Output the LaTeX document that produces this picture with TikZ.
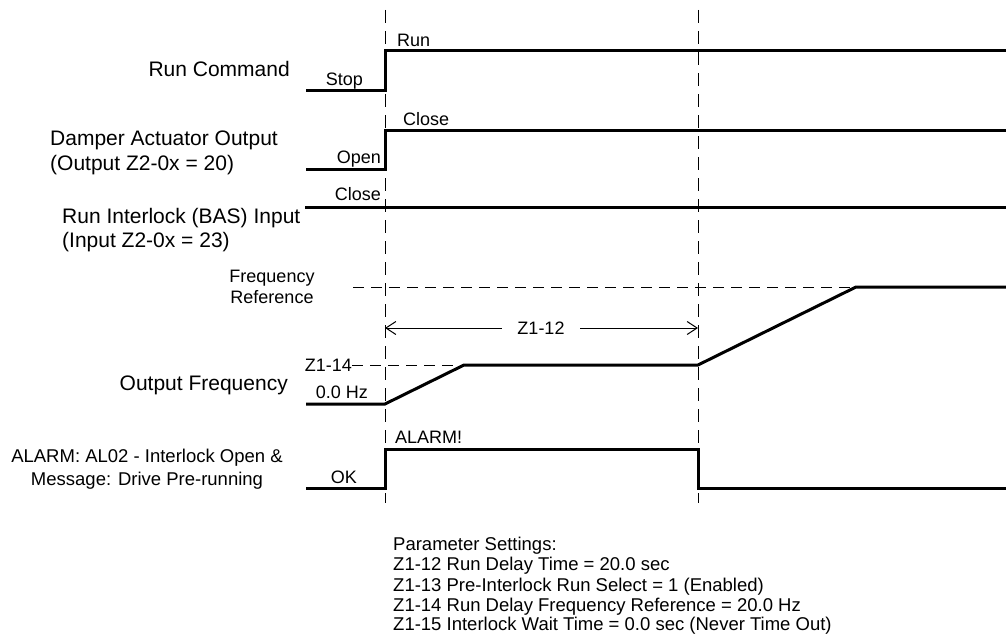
\documentclass[tikz,border=0pt]{standalone}
\usepackage{fontspec}
\setmainfont{Liberation Sans}
\usetikzlibrary{arrows.meta}
\begin{document}
\begin{tikzpicture}[x=1pt,y=-1pt,
  trace/.style={line width=3pt, line join=miter},
  guide/.style={line width=1pt, dash pattern=on 13pt off 8pt},
  hguide/.style={line width=1pt, dash pattern=on 11pt off 7pt},
  biglbl/.style={inner sep=0pt, font=\fontsize{21}{24}\selectfont},
  lbl/.style={inner sep=0pt, font=\fontsize{18}{20.5}\selectfont},
  almlbl/.style={inner sep=0pt, font=\fontsize{18.5}{23}\selectfont},
  parlbl/.style={inner sep=0pt, font=\fontsize{18.5}{20.5}\selectfont},
  barb/.style={line width=1pt, {Straight Barb[length=10pt,width=13pt]}-}
]
\useasboundingbox (0,0) rectangle (1006,634);

% event guide lines
\coordinate (tA) at (385,10); \coordinate (bA) at (385,503);
\coordinate (tB) at (698,10); \coordinate (bB) at (698,503);
\draw[guide] (tA) -- (bA);
\draw[guide] (tB) -- (bB);

% Run command
\coordinate (r0) at (306,90); \coordinate (r1) at (385,90);
\coordinate (r2) at (385,51); \coordinate (r3) at (1006,51);
\draw[trace] (r0) -- (r1) -- (r2) -- (r3);
\node[biglbl, anchor=base east] (rc) at (290,77) {Run Command};
\node[lbl, anchor=base west] (run) at (397,47) {Run};
\node[lbl, anchor=base east] (stop) at (363,85) {Stop};

% Damper actuator
\coordinate (d0) at (306,169); \coordinate (d1) at (385,169);
\coordinate (d2) at (385,130); \coordinate (d3) at (1006,130);
\draw[trace] (d0) -- (d1) -- (d2) -- (d3);
\node[biglbl, anchor=base west] (dam1) at (50,145) {Damper Actuator Output};
\node[biglbl, anchor=base west] (dam2) at (50,170) {(Output Z2-0x = 20)};
\node[lbl, anchor=base west] (dclose) at (403,125) {Close};
\node[lbl, anchor=base east] (dopen) at (381,163) {Open};

% Run interlock
\coordinate (i0) at (305,207); \coordinate (i1) at (1006,207);
\draw[trace] (i0) -- (i1);
\node[biglbl, anchor=base west] (il1) at (62,223) {Run Interlock (BAS) Input};
\node[biglbl, anchor=base west] (il2) at (62,247) {(Input Z2-0x = 23)};
\node[lbl, anchor=base east] (iclose) at (381,200) {Close};

% Frequency reference
\node[lbl, anchor=base] (fr1) at (272,282) {Frequency};
\node[lbl, anchor=base] (fr2) at (272,303) {Reference};
\coordinate (f0) at (353,287);
\coordinate (o4) at (856,287);
\draw[hguide] (f0) -- (o4);

% Z1-12 dimension
\coordinate (z0) at (385,328); \coordinate (z1) at (698,328);
\node[lbl, inner xsep=15pt] (z12) at (541,328) {Z1-12};
\draw[barb] (z0) -- (z12);
\draw[barb] (z1) -- (z12);

% Output frequency
\coordinate (o0) at (306,404); \coordinate (o1) at (385,404);
\coordinate (o2) at (464,365); \coordinate (o3) at (698,365);
\coordinate (o5) at (1006,287);
\node[lbl, anchor=east] (z14) at (352,365) {Z1-14};
\draw[hguide] (z14.east) -- (o2);
\draw[trace] (o0) -- (o1) -- (o2) -- (o3) -- (o4) -- (o5);
\node[biglbl, anchor=base east] (of) at (288,390) {Output Frequency};
\node[lbl, anchor=base east] (hz) at (368,398) {0.0 Hz};

% Alarm
\coordinate (a0) at (306,488); \coordinate (a1) at (385,488);
\coordinate (a2) at (385,449); \coordinate (a3) at (698,449);
\coordinate (a4) at (698,488); \coordinate (a5) at (1006,488);
\draw[trace] (a0) -- (a1) -- (a2) -- (a3) -- (a4) -- (a5);
\node[almlbl, anchor=base] (al1) at (147,462) {ALARM: AL02 - Interlock Open \&};
\node[almlbl, anchor=base] (al2) at (147,485) {Message: Drive Pre-running};
\node[lbl, anchor=base west] (alm) at (395,443) {ALARM!};
\node[lbl, anchor=base east] (ok) at (357,483) {OK};

% Parameter settings
\node[parlbl, anchor=base west] (p0) at (393,550) {Parameter Settings:};
\node[parlbl, anchor=base west] (p1) at (393,570.5) {Z1-12 Run Delay Time = 20.0 sec};
\node[parlbl, anchor=base west] (p2) at (393,591) {Z1-13 Pre-Interlock Run Select = 1 (Enabled)};
\node[parlbl, anchor=base west] (p3) at (393,611) {Z1-14 Run Delay Frequency Reference = 20.0 Hz};
\node[parlbl, anchor=base west] (p4) at (393,630.5) {Z1-15 Interlock Wait Time = 0.0 sec (Never Time Out)};
\end{tikzpicture}
\end{document}
